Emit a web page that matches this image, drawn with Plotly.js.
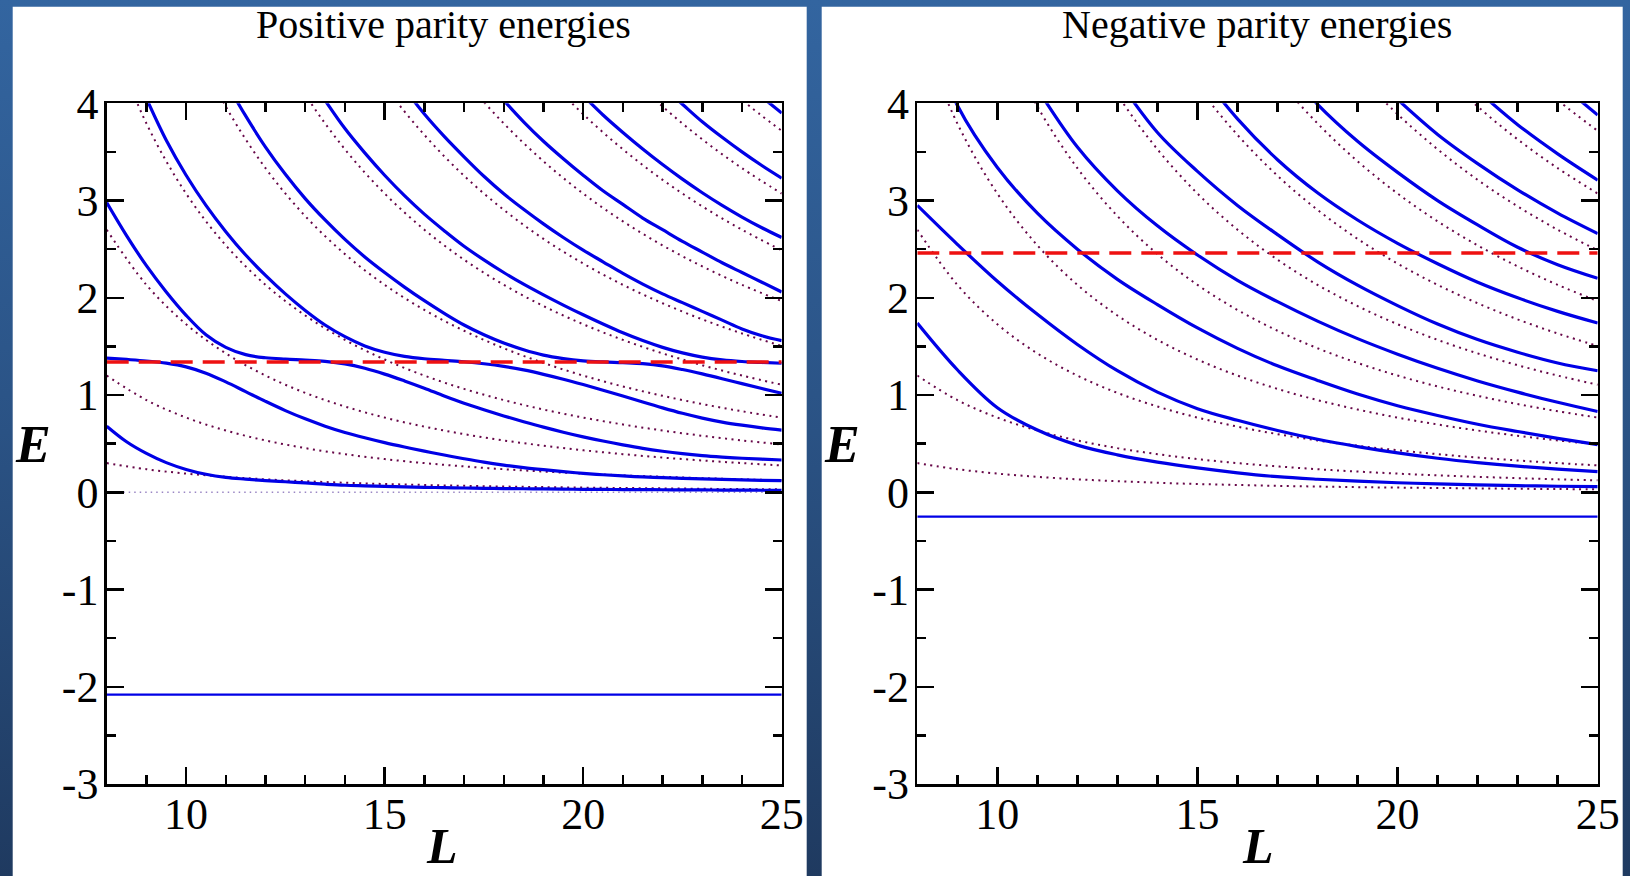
<!DOCTYPE html>
<html>
<head>
<meta charset="utf-8">
<script src="https://cdn.plot.ly/plotly-3.0.1.min.js"></script>
<style>
html, body { margin:0; padding:0; width:1630px; height:876px; overflow:hidden;
  background: linear-gradient(to bottom, #3365a0 0%, #2b5487 45%, #1f3a60 100%); }
#chart { width:1630px; height:876px; }
</style>
</head>
<body>
<div id="chart"></div>
<script>
// ---------------- DATA ----------------
// box size L grids
const L_HALF = [8,8.5,9,9.5,10,10.5,11,11.5,12,12.5,13,13.5,14,14.5,15,15.5,16,16.5,17,17.5,18,18.5,19,19.5,20,20.5,21,21.5,22,22.5,23,23.5,24,24.5,25];
const L_INT  = [8,9,10,11,12,13,14,15,16,17,18,19,20,21,22,23,24,25];

// Positive parity levels E(L) – each array holds the values for the LAST points of L_HALF
const posLevel1  = [0.68,0.52,0.40,0.305,0.235,0.185,0.153,0.135,0.12,0.108,0.096,0.083,0.072,0.066,0.06,0.056,0.051,0.047,0.044,0.041,0.038,0.036,0.034,0.032,0.03,0.029,0.028,0.027,0.026,0.025,0.024,0.023,0.022,0.021,0.02];
const posLevel2  = [1.38,1.366,1.35,1.328,1.29,1.225,1.135,1.035,0.935,0.84,0.755,0.68,0.615,0.56,0.51,0.465,0.423,0.383,0.345,0.31,0.28,0.254,0.232,0.212,0.195,0.18,0.168,0.158,0.15,0.143,0.137,0.132,0.127,0.123,0.12];
const posLevel3  = [2.98,2.64,2.33,2.06,1.82,1.62,1.49,1.415,1.383,1.369,1.359,1.346,1.32,1.275,1.215,1.145,1.07,0.99,0.915,0.848,0.785,0.726,0.67,0.618,0.57,0.527,0.488,0.452,0.422,0.397,0.377,0.362,0.35,0.34,0.332];
const posLevel4  = [4.05,3.62,3.26,2.95,2.68,2.44,2.23,2.04,1.87,1.72,1.6,1.505,1.44,1.398,1.373,1.357,1.342,1.322,1.295,1.258,1.213,1.163,1.108,1.05,0.99,0.928,0.868,0.812,0.763,0.722,0.69,0.663,0.64];
const posLevel5  = [4.22,3.87,3.55,3.27,3.02,2.8,2.6,2.42,2.26,2.11,1.97,1.84,1.72,1.62,1.535,1.465,1.41,1.375,1.352,1.34,1.332,1.322,1.3,1.262,1.217,1.168,1.117,1.067,1.018];
const posLevel6  = [4.03,3.74,3.49,3.26,3.05,2.86,2.69,2.53,2.39,2.26,2.14,2.03,1.925,1.825,1.73,1.64,1.56,1.49,1.433,1.39,1.362,1.345,1.335,1.327];
const posLevel7  = [4.15,3.89,3.66,3.45,3.25,3.07,2.91,2.76,2.62,2.49,2.37,2.25,2.14,2.04,1.95,1.86,1.77,1.68,1.61,1.56];
const posLevel8  = [4.03,3.81,3.61,3.43,3.26,3.1,2.96,2.82,2.7,2.58,2.47,2.36,2.26,2.16,2.06];
const posLevel9  = [4.08,3.88,3.7,3.53,3.37,3.22,3.08,2.95,2.83,2.72,2.62];
const posLevel10 = [4.17,3.99,3.81,3.65,3.5,3.36,3.23];
const posLevel11 = [4.065,3.9];
const posBound = -2.08;
const posThreshold = 1.34;

// Negative parity levels E(L) – values for the LAST points of L_INT
const negLevel1  = [1.74,1.26,0.87,0.64,0.485,0.385,0.31,0.25,0.2,0.16,0.134,0.114,0.098,0.086,0.076,0.068,0.062,0.058];
const negLevel2  = [2.95,2.55,2.17,1.83,1.52,1.25,1.03,0.86,0.74,0.635,0.545,0.47,0.405,0.35,0.305,0.268,0.238,0.212];
const negLevel3  = [5.0,3.98,3.34,2.87,2.5,2.19,1.93,1.69,1.48,1.3,1.15,1.01,0.89,0.79,0.70,0.625,0.555,0.49];
const negLevel4  = [4.15,3.55,3.1,2.74,2.44,2.18,1.96,1.76,1.58,1.42,1.275,1.145,1.03,0.925,0.83];
const negLevel5  = [4.25,3.7,3.3,2.95,2.65,2.37,2.13,1.92,1.73,1.57,1.44,1.33,1.25];
const negLevel6  = [4.35,3.84,3.42,3.08,2.8,2.56,2.35,2.16,2.0,1.86,1.74];
const negLevel7  = [4.46,3.99,3.61,3.29,3.0,2.75,2.52,2.34,2.2];
const negLevel8  = [4.04,3.68,3.38,3.11,2.87,2.66];
const negLevel9  = [4.13,3.78,3.48,3.21];
const negLevel10 = [4.22,3.88];
const negBound = -0.25;
const negThreshold = 2.46;

// Free (non-interacting) levels, dotted – values for the LAST points of L_INT
const freeLevel0  = 0;
const freeLevel1  = [0.300,0.237,0.192,0.159,0.133,0.114,0.098,0.085,0.075,0.066,0.059,0.053,0.048,0.044,0.040,0.036,0.033,0.031];
const freeLevel2  = [1.200,0.948,0.768,0.635,0.533,0.454,0.392,0.341,0.300,0.266,0.237,0.213,0.192,0.174,0.159,0.145,0.133,0.123];
const freeLevel3  = [2.700,2.133,1.728,1.428,1.200,1.022,0.882,0.768,0.675,0.598,0.533,0.479,0.432,0.392,0.357,0.327,0.300,0.276];
const freeLevel4  = [4.800,3.793,3.072,2.539,2.133,1.818,1.567,1.365,1.200,1.063,0.948,0.851,0.768,0.697,0.635,0.581,0.533,0.492];
const freeLevel5  = [4.800,3.967,3.333,2.840,2.449,2.133,1.875,1.661,1.481,1.330,1.200,1.088,0.992,0.907,0.833,0.768];
const freeLevel6  = [4.800,4.090,3.527,3.072,2.700,2.392,2.133,1.915,1.728,1.567,1.428,1.307,1.200,1.106];
const freeLevel7  = [4.800,4.181,3.675,3.255,2.904,2.606,2.352,2.133,1.944,1.778,1.633,1.505];
const freeLevel8  = [4.800,4.252,3.793,3.404,3.072,2.786,2.539,2.323,2.133,1.966];
const freeLevel9  = [4.800,4.308,3.888,3.527,3.213,2.940,2.700,2.488];
const freeLevel10 = [4.800,4.354,3.967,3.629,3.333,3.072];
const freeLevel11 = [4.800,4.392,4.033,3.717];

const xTickVals = [10,15,20,25];
const xTickText = ['10','15','20','25'];
const yTickVals = [-3,-2,-1,0,1,2,3,4];
const yTickText = ['-3','-2','-1','0','1','2','3','4'];
const titles = ['Positive parity energies','Negative parity energies'];

// ---------------- DRAWING ----------------
const FONT = '"Liberation Serif", "Times New Roman", Times, serif';
const DOT   = {color:'#670748', width:2, dash:'2px,4.5px', shape:'spline'};
const DOT0  = {color:'#9a86c4', width:1.5, dash:'1.5px,4px'};
const BLUE  = {color:'#0000e6', width:3.2, shape:'spline'};
const FLAT  = {color:'#0000e6', width:2.2};
const RED   = {color:'#ee1111', width:3.6, dash:'22px,10px'};

function tail(grid, vals) { return grid.slice(grid.length - vals.length); }
const traces = [];
function curve(xa, ya, grid, vals, style) {
  traces.push({type:'scatter', mode:'lines', x: tail(grid, vals), y: vals,
    xaxis: xa, yaxis: ya, line: style, hoverinfo:'skip', showlegend:false});
}
function flat(xa, ya, val, style) {
  const ends = [L_INT[0], L_INT[L_INT.length-1]];
  traces.push({type:'scatter', mode:'lines', x: ends, y: [val, val],
    xaxis: xa, yaxis: ya, line: style, hoverinfo:'skip', showlegend:false});
}

const freeLevels = [freeLevel1,freeLevel2,freeLevel3,freeLevel4,freeLevel5,freeLevel6,freeLevel7,freeLevel8,freeLevel9,freeLevel10,freeLevel11];
const posLevels = [posLevel1,posLevel2,posLevel3,posLevel4,posLevel5,posLevel6,posLevel7,posLevel8,posLevel9,posLevel10,posLevel11];
const negLevels = [negLevel1,negLevel2,negLevel3,negLevel4,negLevel5,negLevel6,negLevel7,negLevel8,negLevel9,negLevel10];

// left panel
flat('x','y', freeLevel0, DOT0);
freeLevels.forEach(v => curve('x','y', L_INT, v, DOT));
posLevels.forEach(v => curve('x','y', L_HALF, v, BLUE));
flat('x','y', posBound, FLAT);
flat('x','y', posThreshold, RED);
// right panel
freeLevels.forEach(v => curve('x2','y2', L_INT, v, DOT));
negLevels.forEach(v => curve('x2','y2', L_INT, v, BLUE));
flat('x2','y2', negBound, FLAT);
flat('x2','y2', negThreshold, RED);

const W = 1630, H = 876;
const L_DOM = [106.7/W, 781.7/W];
const R_DOM = [917.3/W, 1597.7/W];
const Y_DOM = [(H-784)/H, (H-103.3)/H];

function xAxis(domain, anchor) {
  return {domain, anchor, range:[L_INT[0], L_INT[L_INT.length-1]],
    tickmode:'array', tickvals:xTickVals, ticktext:xTickText,
    ticks:'inside', ticklen:17, tickwidth:2.5, tickcolor:'#000',
    minor:{tickmode:'linear', tick0:8, dtick:1, ticks:'inside', ticklen:9, tickwidth:2.5, tickcolor:'#000'},
    showline:true, linecolor:'#000', linewidth:2.5, mirror:'ticks',
    showgrid:false, zeroline:false, fixedrange:true, ticklabelstandoff:-10,
    tickfont:{family:FONT, size:44, color:'#000'}};
}
function yAxis(domain, anchor) {
  return {domain, anchor, range:[-3,4],
    tickmode:'array', tickvals:yTickVals, ticktext:yTickText,
    ticks:'inside', ticklen:17, tickwidth:2.5, tickcolor:'#000',
    minor:{tickmode:'linear', tick0:0, dtick:0.5, ticks:'inside', ticklen:9, tickwidth:2.5, tickcolor:'#000'},
    showline:true, linecolor:'#000', linewidth:2.5, mirror:'ticks',
    showgrid:false, zeroline:false, fixedrange:true, ticklabelstandoff:-3,
    tickfont:{family:FONT, size:44, color:'#000'}};
}

function ann(text, xpx, ypx, size) {
  return {text, x: xpx/W, y: 1 - ypx/H, xref:'paper', yref:'paper',
    xanchor:'center', yanchor:'middle', showarrow:false,
    font:{family:FONT, size, color:'#000'}};
}

const layout = {
  width: W, height: H,
  margin:{l:0, r:0, t:0, b:0, pad:0},
  paper_bgcolor:'rgba(0,0,0,0)', plot_bgcolor:'#ffffff',
  showlegend:false,
  xaxis: xAxis(L_DOM, 'y'), yaxis: yAxis(Y_DOM, 'x'),
  xaxis2: xAxis(R_DOM, 'y2'), yaxis2: yAxis(Y_DOM, 'x2'),
  shapes: [
    {type:'rect', xref:'paper', yref:'paper', x0:12.7/W, x1:806.7/W, y0:0, y1:1-6.7/H, fillcolor:'#ffffff', line:{width:0}, layer:'below'},
    {type:'rect', xref:'paper', yref:'paper', x0:821.7/W, x1:1622.7/W, y0:0, y1:1-6.7/H, fillcolor:'#ffffff', line:{width:0}, layer:'below'}
  ],
  annotations: [
    ann(titles[0], 444, 24, 40),
    ann(titles[1], 1257, 24, 40),
    ann('<b><i>E</i></b>', 32.5, 444, 52),
    ann('<b><i>E</i></b>', 842, 444, 52),
    ann('<b><i>L</i></b>', 442, 846, 50),
    ann('<b><i>L</i></b>', 1258, 846, 50)
  ]
};

Plotly.newPlot('chart', traces, layout, {staticPlot:true, displayModeBar:false});
</script>
</body>
</html>
